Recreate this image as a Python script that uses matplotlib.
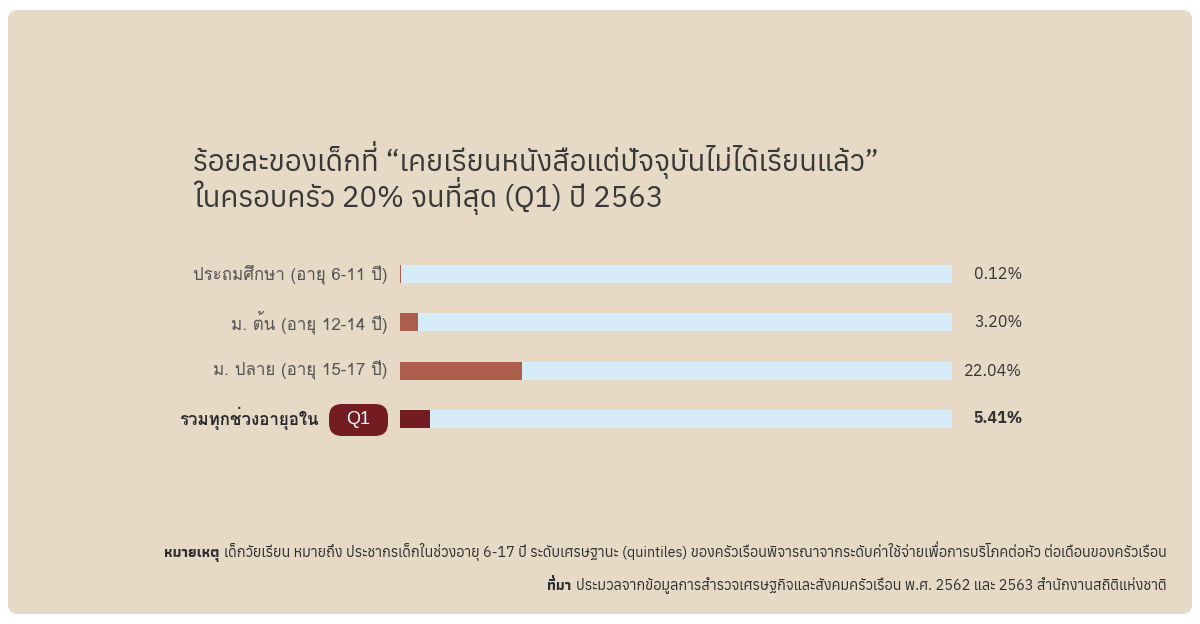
import matplotlib
matplotlib.use("Agg")
import matplotlib.pyplot as plt
from matplotlib.patches import FancyBboxPatch
from matplotlib.transforms import IdentityTransform

# ---------------------------------
# data
categories = ["ประถมศึกษา (อายุ 6-11 ปี)", "ม. ต้น (อายุ 12-14 ปี)",
              "ม. ปลาย (อายุ 15-17 ปี)", "รวมทุกช่วงอายุอใน"]
values = [0.12, 3.20, 22.04, 5.41]
value_labels = ["0.12%", "3.20%", "22.04%", "5.41%"]
max_value = 100
badge_label = "Q1"

title_lines = ["ร้อยละของเด็กที่ “เคยเรียนหนังสือแต่ปัจจุบันไม่ได้เรียนแล้ว”",
               "ในครอบครัว 20% จนที่สุด (Q1) ปี 2563"]
note_head = "หมายเหตุ"
note_text = "เด็กวัยเรียน หมายถึง ประชากรเด็กในช่วงอายุ 6-17 ปี ระดับเศรษฐานะ (quintiles) ของครัวเรือนพิจารณาจากระดับค่าใช้จ่ายเพื่อการบริโภคต่อหัว ต่อเดือนของครัวเรือน"
source_head = "ที่มา"
source_text = "ประมวลจากข้อมูลการสำรวจเศรษฐกิจและสังคมครัวเรือน พ.ศ. 2562 และ 2563 สำนักงานสถิติแห่งชาติ"

# ---------------------------------
PANEL = '#e6d9c6'
TRACK = '#d7ecf9'
BAR = '#ad5e4a'
DARK = '#731c21'
HEAD_FONT = ['Anuphan', 'DejaVu Sans']
BOLD_FONT = ['Athiti', 'DejaVu Sans']
LABEL_FONT = ['Loma', 'DejaVu Sans']
NUM_FONT = ['IBM Plex Sans Thai', 'DejaVu Sans']

UPPER = set('\u0e31\u0e34\u0e35\u0e36\u0e37\u0e47')
TONES = set('\u0e48\u0e49\u0e4a\u0e4b\u0e4c')

fig = plt.figure(figsize=(12, 6.24), dpi=100, facecolor='white')
renderer = fig.canvas.get_renderer()


def thai_text(ax, x, y, s, **kw):
    # matplotlib does no Thai shaping: a tone mark after an upper vowel lands on
    # top of the vowel, so leave it out and put it a bit higher by hand
    plain, marks = '', []
    for i, ch in enumerate(s):
        if ch in TONES and i > 0 and s[i - 1] in UPPER:
            marks.append((len(plain), ch))
        else:
            plain += ch
    t = ax.text(x, y, plain, va='baseline', **kw)
    if not marks:
        return t
    left = t.get_window_extent(renderer).x0
    base = ax.transData.transform((x, y))[1]
    px = t.get_fontsize() * fig.dpi / 72
    kw2 = {k: v for k, v in kw.items() if k != 'ha'}
    for k, ch in marks:
        tmp = ax.text(x, y, plain[:k], va='baseline', **kw2)
        w = tmp.get_window_extent(renderer).width
        tmp.remove()
        ax.text(left + w - 0.04 * px, base + 0.2 * px, ch, ha='right', va='baseline',
                transform=IdentityTransform(), **kw2)
    return t


# background panel, pixel coordinates
bg = fig.add_axes([0, 0, 1, 1])
bg.set_xlim(0, 1200)
bg.set_ylim(624, 0)
bg.axis('off')
bg.add_patch(FancyBboxPatch((8, 10), 1184, 604, boxstyle="round,pad=0,rounding_size=10",
                            fc=PANEL, ec='none'))

# title
thai_text(bg, 193, 171, title_lines[0], fontsize=21, color='#383838', family=HEAD_FONT)
thai_text(bg, 193, 207, title_lines[1], fontsize=21, color='#383838', family=HEAD_FONT)

# bars
ax = fig.add_axes([400 / 1200, 1 - 443 / 624, 552 / 1200, 193 / 624])
ax.set_facecolor('none')
ypos = list(range(len(categories)))
colors = [BAR] * (len(categories) - 1) + [DARK]
ax.barh(ypos, [max_value] * len(ypos), height=0.37, color=TRACK)
ax.barh(ypos, values, height=0.37, color=colors)
ax.set_xlim(0, max_value)
ax.set_ylim(3.5, -0.5)
ax.axis('off')

last = len(categories) - 1
for i, (cat, lab) in enumerate(zip(categories, value_labels)):
    ax.text(112.7, i, lab, ha='right', va='center', fontsize=11.5, color='#333333',
            family=NUM_FONT, fontweight='bold' if i == last else 'normal')
    if i == last:
        ax.text(-14.8, i, cat, ha='right', va='center', fontsize=12.2, color='#2a2a2a',
                family=LABEL_FONT, fontweight='bold')
    else:
        ax.text(-2.2, i, cat, ha='right', va='center', fontsize=12.2, color='#555555',
                family=LABEL_FONT)

# Q1 badge
bg.add_patch(FancyBboxPatch((329, 404), 59, 32, boxstyle="round,pad=0,rounding_size=13",
                            fc=DARK, ec='none'))
bg.text(358.5, 420, badge_label, ha='center', va='center', fontsize=13, color='white',
        family=['Liberation Sans', 'DejaVu Sans'])

# notes, right aligned
for y, head, body in [(557, note_head, note_text), (590, source_head, source_text)]:
    t = thai_text(bg, 1167, y, body, ha='right', fontsize=10.4, color='#2e2e2e', family=HEAD_FONT)
    x0 = bg.transData.inverted().transform((t.get_window_extent(renderer).x0, 0))[0]
    thai_text(bg, x0 - 5, y, head, ha='right', fontsize=10.4, color='#2e2e2e',
              family=BOLD_FONT, fontweight='bold')

fig.savefig("out.png", dpi=100, facecolor='white')
